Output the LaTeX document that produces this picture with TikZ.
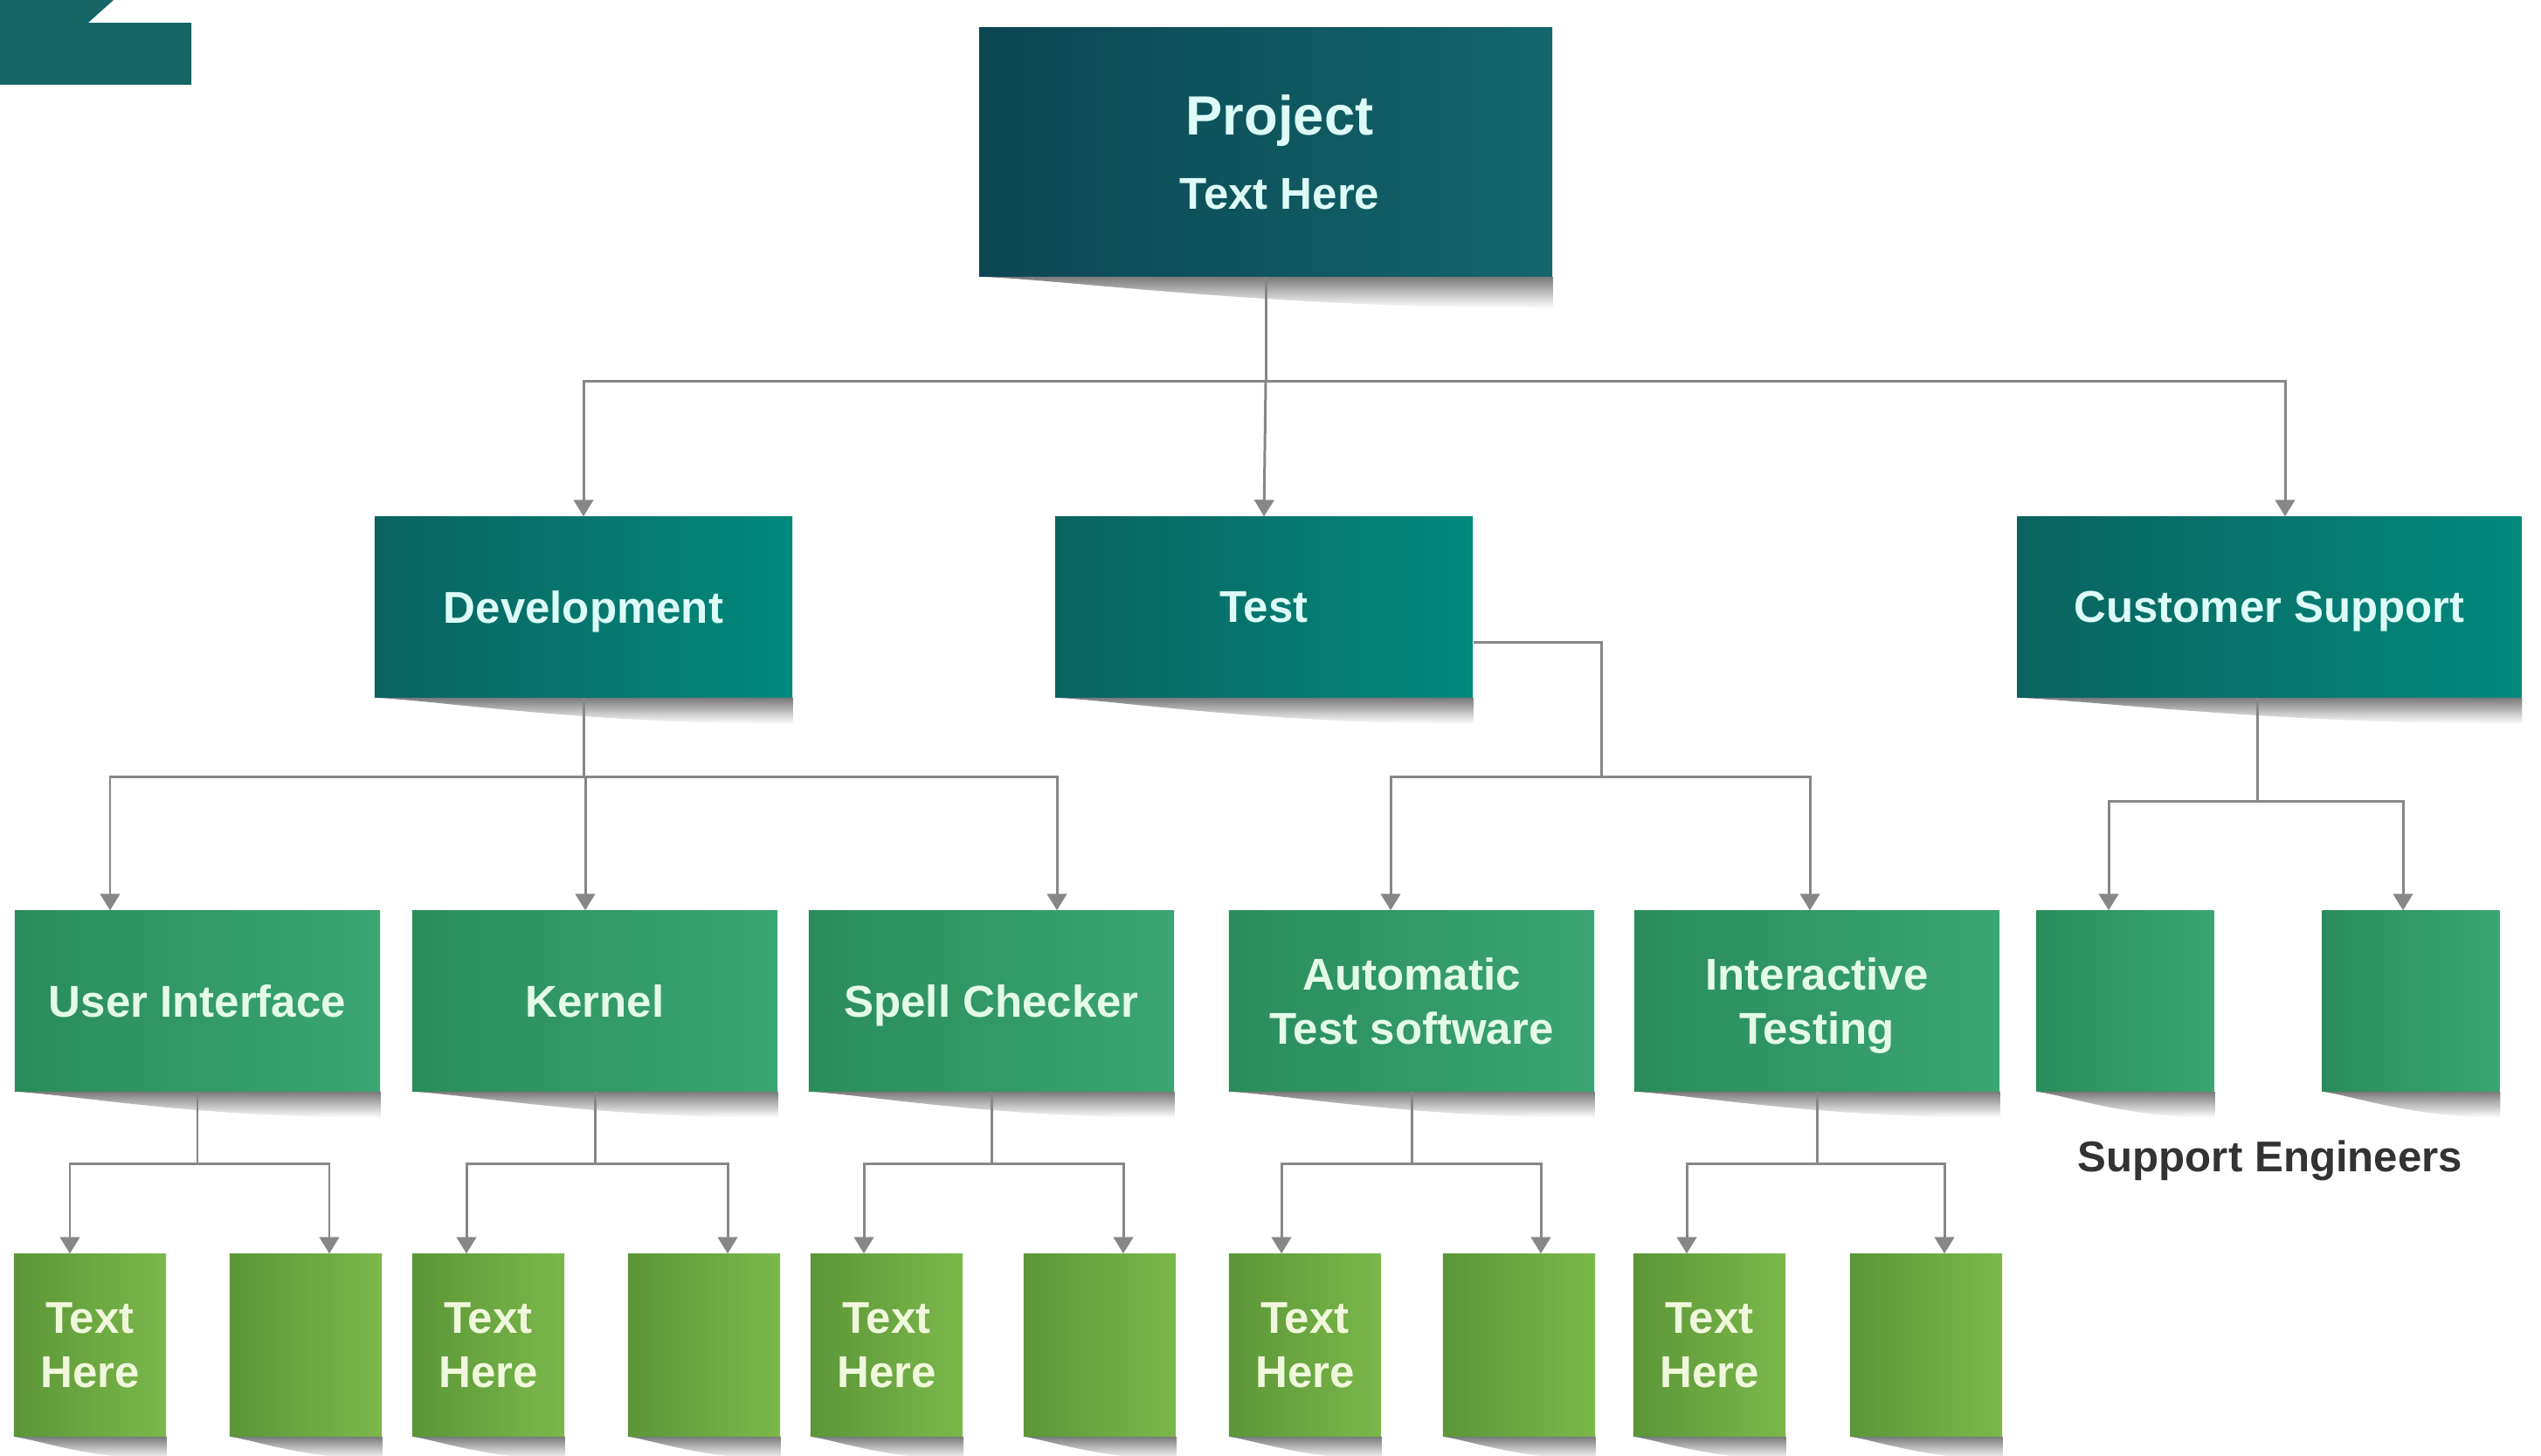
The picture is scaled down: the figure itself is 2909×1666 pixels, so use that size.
\documentclass[tikz,border=0pt]{standalone}
\usepackage{fontspec}
\setmainfont{Liberation Sans}
\usetikzlibrary{arrows.meta,calc}
\definecolor{cornerc}{HTML}{176666}
\definecolor{projL}{HTML}{0B4651}
\definecolor{projR}{HTML}{13666C}
\definecolor{tealL}{HTML}{0A635F}
\definecolor{tealR}{HTML}{02897C}
\definecolor{grnL}{HTML}{2A8C5C}
\definecolor{grnR}{HTML}{3AA673}
\definecolor{limeL}{HTML}{5C9638}
\definecolor{limeR}{HTML}{7BB84A}
\definecolor{lightcyan}{HTML}{DDFCF8}
\definecolor{lightmint}{HTML}{E4FBEA}
\definecolor{lightlime}{HTML}{F0F8DC}
\definecolor{linec}{HTML}{878787}
\definecolor{labelc}{HTML}{333333}
\tikzset{
 box/.style={rectangle, inner sep=0pt, align=center, text depth=0pt, font=\bfseries\fontsize{14.5}{17.6}\selectfont},
 projbox/.style={box, left color=projL, right color=projR, text=lightcyan, minimum width=6.56cm, minimum height=2.84cm},
 deptbox/.style={box, left color=tealL, right color=tealR, text=lightcyan, minimum height=2.06cm},
 teambox/.style={box, left color=grnL, right color=grnR, text=lightmint, minimum height=2.06cm},
 leafbox/.style={box, left color=limeL, right color=limeR, text=lightlime, minimum width=1.74cm, minimum height=2.08cm},
 conn/.style={draw=linec, line width=0.85pt},
 arr/.style={conn, -{Triangle[length=5.4pt,width=6.4pt]}},
}
\newcommand{\mkshadow}[2]{%
 \path[top color=black!52, bottom color=white]
 (#1.south west) -- (#1.south east) -- ($(#1.south east)+(0,#2)$)
 .. controls ($(#1.south east)!0.5!(#1.south west)+(0,#2)$) and ($(#1.south east)!0.85!(#1.south west)+(0,3)$) .. (#1.south west) -- cycle;}
\begin{document}
\begin{tikzpicture}[x=0.01cm,y=-0.01cm]
\useasboundingbox (0,0) rectangle (2909,1666);
% corner mark
\fill[cornerc] (0,0) -- (130,0) -- (101,26) -- (219,26) -- (219,97) -- (0,97) -- cycle;
% nodes
\node[projbox, font=\bfseries\fontsize{14.5}{24.3}\selectfont] (proj) at (1449,174) {{\hspace*{0.32cm}\fontsize{18}{24.3}\selectfont Project}\\\hspace*{0.32cm}Text Here};
\node[deptbox, minimum width=4.78cm] (dev) at (668,695) {Development};
\node[deptbox, minimum width=4.78cm] (test) at (1447,695) {Test};
\node[deptbox, minimum width=5.77cm] (cs) at (2598,695) {Customer Support};
\node[teambox, minimum width=4.18cm] (ui) at (226,1146) {User Interface};
\node[teambox, minimum width=4.18cm] (kern) at (681,1146) {Kernel};
\node[teambox, minimum width=4.18cm] (spell) at (1135,1146) {Spell Checker};
\node[teambox, minimum width=4.18cm] (auto) at (1616,1146) {Automatic\\Test software};
\node[teambox, minimum width=4.18cm] (inter) at (2080,1146) {Interactive\\Testing};
\node[teambox, minimum width=2.03cm] (se1) at (2433,1146) {};
\node[teambox, minimum width=2.03cm] (se2) at (2760,1146) {};
\node[leafbox] (ui1) at (103,1540) {Text\\Here};
\node[leafbox] (ui2) at (350,1540) {};
\node[leafbox] (k1) at (559,1540) {Text\\Here};
\node[leafbox] (k2) at (806,1540) {};
\node[leafbox] (sp1) at (1015,1540) {Text\\Here};
\node[leafbox] (sp2) at (1259,1540) {};
\node[leafbox] (au1) at (1494,1540) {Text\\Here};
\node[leafbox] (au2) at (1739,1540) {};
\node[leafbox] (in1) at (1957,1540) {Text\\Here};
\node[leafbox] (in2) at (2205,1540) {};
\node[anchor=base, text=labelc, font=\bfseries\fontsize{14}{17}\selectfont] (selbl) at (2599,1341) {Support Engineers};
% shadows
\mkshadow{proj}{36}
\foreach \n in {dev,test,cs}{\mkshadow{\n}{30}}
\foreach \n in {ui,kern,spell,auto,inter,se1,se2}{\mkshadow{\n}{30}}
\foreach \n in {ui1,ui2,k1,k2,sp1,sp2,au1,au2,in1,in2}{\mkshadow{\n}{26}}
% connectors: project
\draw[conn] (proj.south) -- ++(0,120) coordinate (pbar);
\draw[arr] (pbar) -| (dev.north);
\draw[arr] (pbar) -- (test.north);
\draw[arr] (pbar) -| ($(cs.north)+(18,0)$);
% development
\draw[conn] (dev.south) -- ++(0,91) coordinate (dbar);
\draw[arr] (dbar) -| ($(ui.north)+(-100,0)$);
\draw[arr] (dbar) -| ($(kern.north)+(-11,0)$);
\draw[arr] (dbar) -| ($(spell.north)+(75,0)$);
% test
\draw[conn] ($(test.east)+(0,40)$) -- ++(147,0) -- ++(0,154) coordinate (tbar);
\draw[arr] (tbar) -| ($(auto.north)+(-24,0)$);
\draw[arr] (tbar) -| ($(inter.north)+(-8,0)$);
% customer support
\draw[conn] ($(cs.south)+(-14,0)$) -- ++(0,119) coordinate (cbar);
\draw[arr] (cbar) -| ($(se1.north)+(-19,0)$);
\draw[arr] (cbar) -| ($(se2.north)+(-9,0)$);
% level 3 to leaves
\draw[conn] (ui.south) -- ++(0,83) coordinate (uibar);
\draw[arr] (uibar) -| ($(ui1.north)+(-23,0)$);
\draw[arr] (uibar) -| ($(ui2.north)+(27,0)$);
\draw[conn] (kern.south) -- ++(0,83) coordinate (kbar);
\draw[arr] (kbar) -| ($(k1.north)+(-25,0)$);
\draw[arr] (kbar) -| ($(k2.north)+(27,0)$);
\draw[conn] (spell.south) -- ++(0,83) coordinate (sbar);
\draw[arr] (sbar) -| ($(sp1.north)+(-26,0)$);
\draw[arr] (sbar) -| ($(sp2.north)+(27,0)$);
\draw[conn] (auto.south) -- ++(0,83) coordinate (abar);
\draw[arr] (abar) -| ($(au1.north)+(-27,0)$);
\draw[arr] (abar) -| ($(au2.north)+(25,0)$);
\draw[conn] (inter.south) -- ++(0,83) coordinate (ibar);
\draw[arr] (ibar) -| ($(in1.north)+(-26,0)$);
\draw[arr] (ibar) -| ($(in2.north)+(21,0)$);
\end{tikzpicture}
\end{document}
